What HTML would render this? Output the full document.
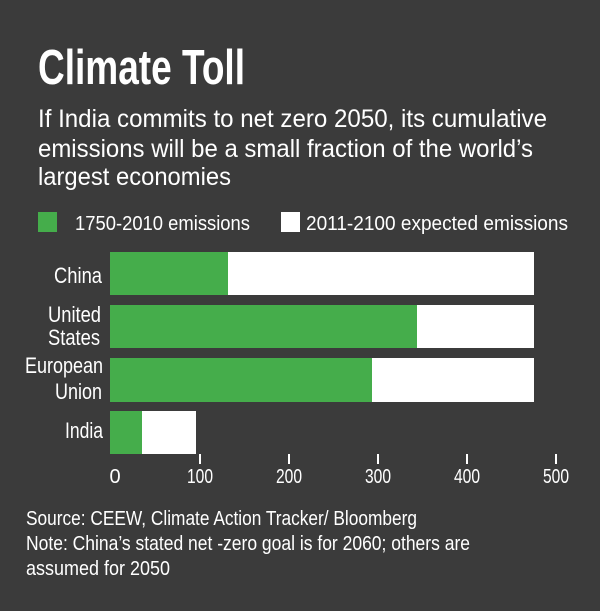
<!DOCTYPE html>
<html><head><meta charset="utf-8"><style>
html,body{margin:0;padding:0;background:#3b3b3b;}
svg{display:block}
text{font-family:"Liberation Sans Narrow","Liberation Sans",sans-serif;fill:#fff}
</style></head><body>
<svg width="600" height="611" viewBox="0 0 600 611" xmlns="http://www.w3.org/2000/svg">
<rect width="600" height="611" fill="#3b3b3b"/>
<text x="38" y="84" font-size="49" font-weight="bold" textLength="207" lengthAdjust="spacingAndGlyphs">Climate Toll</text>
<text x="38" y="127" font-size="25" textLength="509" lengthAdjust="spacingAndGlyphs">If India commits to net zero 2050, its cumulative</text>
<text x="38" y="157" font-size="25" textLength="495" lengthAdjust="spacingAndGlyphs">emissions will be a small fraction of the world’s</text>
<text x="38" y="185" font-size="25" textLength="193" lengthAdjust="spacingAndGlyphs">largest economies</text>
<rect x="38" y="212" width="19" height="20" fill="#45ad4b"/>
<text x="75" y="230" font-size="20" textLength="175" lengthAdjust="spacingAndGlyphs">1750-2010 emissions</text>
<rect x="281" y="212" width="19" height="20" fill="#fff"/>
<text x="306" y="230" font-size="20" textLength="262" lengthAdjust="spacingAndGlyphs">2011-2100 expected emissions</text>
<!-- bars -->
<rect x="110" y="252" width="424" height="43" fill="#fff"/>
<rect x="110" y="252" width="118" height="43" fill="#45ad4b"/>
<rect x="110" y="305" width="424" height="43" fill="#fff"/>
<rect x="110" y="305" width="307" height="43" fill="#45ad4b"/>
<rect x="110" y="358" width="424" height="44" fill="#fff"/>
<rect x="110" y="358" width="262" height="44" fill="#45ad4b"/>
<rect x="110" y="411" width="86" height="43" fill="#fff"/>
<rect x="110" y="411" width="32" height="43" fill="#45ad4b"/>
<!-- labels -->
<g font-size="22">
<text x="54" y="283" textLength="48" lengthAdjust="spacingAndGlyphs">China</text>
<text x="48" y="322" textLength="53" lengthAdjust="spacingAndGlyphs">United</text>
<text x="48" y="345" textLength="52" lengthAdjust="spacingAndGlyphs">States</text>
<text x="25" y="373" textLength="78" lengthAdjust="spacingAndGlyphs">European</text>
<text x="55" y="399" textLength="47" lengthAdjust="spacingAndGlyphs">Union</text>
<text x="65" y="438" textLength="38" lengthAdjust="spacingAndGlyphs">India</text>
</g>
<!-- ticks -->
<g stroke="#fff" stroke-width="2">
<line x1="200" y1="454" x2="200" y2="464"/>
<line x1="289" y1="454" x2="289" y2="464"/>
<line x1="378" y1="454" x2="378" y2="464"/>
<line x1="467" y1="454" x2="467" y2="464"/>
<line x1="556" y1="454" x2="556" y2="464"/>
</g>
<g font-size="20" text-anchor="middle">
<text x="115" y="483">0</text>
<text x="200" y="483" textLength="26" lengthAdjust="spacingAndGlyphs">100</text>
<text x="289" y="483" textLength="26" lengthAdjust="spacingAndGlyphs">200</text>
<text x="378" y="483" textLength="26" lengthAdjust="spacingAndGlyphs">300</text>
<text x="467" y="483" textLength="26" lengthAdjust="spacingAndGlyphs">400</text>
<text x="556" y="483" textLength="26" lengthAdjust="spacingAndGlyphs">500</text>
</g>
<text x="26" y="525" font-size="20" textLength="391" lengthAdjust="spacingAndGlyphs">Source: CEEW, Climate Action Tracker/ Bloomberg</text>
<text x="26" y="550" font-size="20" textLength="444" lengthAdjust="spacingAndGlyphs">Note: China’s stated net -zero goal is for 2060;  others are</text>
<text x="26" y="575" font-size="20" textLength="144" lengthAdjust="spacingAndGlyphs">assumed for 2050</text>
</svg>
</body></html>
